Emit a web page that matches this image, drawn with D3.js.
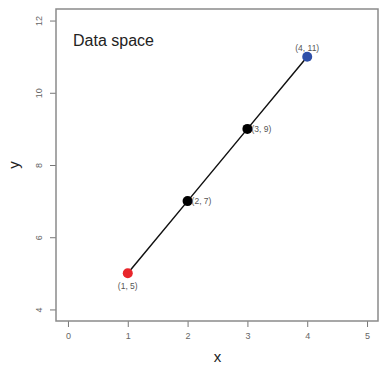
<!DOCTYPE html>
<html>
<head>
<meta charset="utf-8">
<script src="https://cdn.jsdelivr.net/npm/d3@7"></script>
<style>
  body { margin: 0; background: #fff; }
  text { font-family: Arial, "Liberation Sans", sans-serif; }
</style>
</head>
<body>
<svg id="chart" width="379" height="366"></svg>
<script>
const xs = [1, 2, 3, 4];
const ys = [5, 7, 9, 11];
const pointColors = ["#e8262b", "#000", "#000", "#2e4fa8"];
const pointLabels = ["(1, 5)", "(2, 7)", "(3, 9)", "(4, 11)"];
const labelPos = ["below", "right", "right", "above"];
const xTicks = [0, 1, 2, 3, 4, 5];
const yTicks = [4, 6, 8, 10, 12];

const margin = { top: 9, right: 0, bottom: 45, left: 56 };
const width = 379 - margin.left - margin.right;
const height = 366 - margin.top - margin.bottom;

const svg = d3.select('#chart');
const g = svg.append('g').attr('transform', `translate(${margin.left},${margin.top})`);

// R style 4% extension
const x = d3.scaleLinear().domain([-0.2, 5.2]).range([0, width]);
const y = d3.scaleLinear().domain([3.68, 12.32]).range([height, 0]);

const xAxis = g.append('g')
  .attr('transform', `translate(0,${height})`)
  .call(d3.axisBottom(x).tickValues(xTicks).tickSize(6).tickPadding(6).tickFormat(d3.format('d')));
xAxis.select('.domain').remove();
xAxis.selectAll('line').attr('stroke', '#777');
xAxis.selectAll('text').attr('fill', '#666').style('font-size', '9px');

const yAxis = g.append('g')
  .call(d3.axisLeft(y).tickValues(yTicks).tickSize(6).tickPadding(0).tickFormat(d3.format('d')));
yAxis.select('.domain').remove();
yAxis.selectAll('line').attr('stroke', '#777');
yAxis.selectAll('text')
  .attr('fill', '#666')
  .style('font-size', '9px')
  .attr('x', -17)
  .attr('dy', 0)
  .attr('text-anchor', 'middle')
  .attr('transform', d => `rotate(-90,-17,0)`)
  .attr('y', 3);

// box
g.append('rect')
  .attr('x', 0).attr('y', 0)
  .attr('width', width - 1).attr('height', height)
  .attr('fill', 'none').attr('stroke', '#8a8a8a').attr('stroke-width', 1.5);

const pts = xs.map((v, i) => ({ x: v, y: ys[i], c: pointColors[i], l: pointLabels[i], p: labelPos[i] }));

g.append('path')
  .datum(pts)
  .attr('fill', 'none')
  .attr('stroke', '#111')
  .attr('stroke-width', 1.5)
  .attr('d', d3.line().x(d => x(d.x)).y(d => y(d.y)));

g.selectAll('circle.pt')
  .data(pts)
  .join('circle')
  .attr('class', 'pt')
  .attr('cx', d => x(d.x))
  .attr('cy', d => y(d.y))
  .attr('r', 5)
  .attr('fill', d => d.c);

g.selectAll('text.lbl')
  .data(pts)
  .join('text')
  .attr('class', 'lbl')
  .attr('x', d => d.p === 'right' ? x(d.x) + 4 : x(d.x))
  .attr('y', d => d.p === 'below' ? y(d.y) + 16 : d.p === 'above' ? y(d.y) - 6 : y(d.y) + 3)
  .attr('text-anchor', d => d.p === 'right' ? 'start' : 'middle')
  .attr('fill', '#555')
  .style('font-size', '8.5px')
  .text(d => d.l);

g.append('text')
  .attr('x', 17).attr('y', 37)
  .attr('fill', '#222')
  .style('font-size', '16px')
  .text('Data space');

svg.append('text')
  .attr('transform', `translate(19,${margin.top + height / 2}) rotate(-90)`)
  .attr('text-anchor', 'middle')
  .attr('fill', '#222')
  .style('font-size', '15px')
  .text('y');

svg.append('text')
  .attr('x', margin.left + x(2.5))
  .attr('y', 362)
  .attr('text-anchor', 'middle')
  .attr('fill', '#222')
  .style('font-size', '15px')
  .text('x');
</script>
</body>
</html>
